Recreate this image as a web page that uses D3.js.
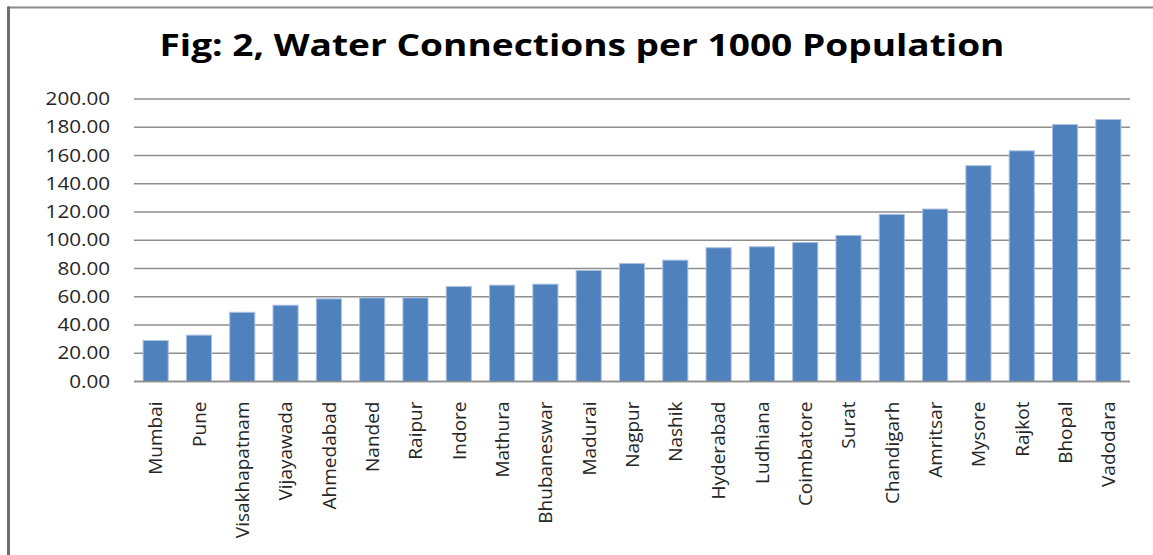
<!DOCTYPE html>
<html>
<head>
<meta charset="utf-8">
<script src="https://cdn.jsdelivr.net/npm/d3@7"></script>
<style>
  html, body { margin: 0; padding: 0; background: #fff; }
  svg { display: block; }
</style>
</head>
<body>
<svg id="chart" width="1153" height="555"></svg>
<script>
// Cities, ordered by connections per 1000 population
const cities = ["Mumbai", "Pune", "Visakhapatnam", "Vijayawada", "Ahmedabad", "Nanded",
  "Raipur", "Indore", "Mathura", "Bhubaneswar", "Madurai", "Nagpur", "Nashik",
  "Hyderabad", "Ludhiana", "Coimbatore", "Surat", "Chandigarh", "Amritsar",
  "Mysore", "Rajkot", "Bhopal", "Vadodara"];
const connections = [29.0, 32.8, 49.0, 54.0, 58.5, 59.2, 59.2, 67.2, 68.2, 68.9,
  78.6, 83.5, 85.9, 94.7, 95.4, 98.4, 103.4, 118.3, 122.1, 152.8, 163.3, 181.9, 185.5];
const yTicks = [0, 20, 40, 60, 80, 100, 120, 140, 160, 180, 200];
const title = "Fig: 2, Water Connections per 1000 Population";

const svg = d3.select("#chart");
const W = 1153, H = 555;
const plot = { left: 134, right: 1130, top: 99, bottom: 381.5 };
const labelFont = "'Open Sans', sans-serif";

// Outer chart frame (top and left edges)
svg.append("line").attr("x1", 8).attr("x2", W).attr("y1", 7.5).attr("y2", 7.5)
  .attr("stroke", "#8a8a8a").attr("stroke-width", 2);
svg.append("line").attr("x1", 8.5).attr("x2", 8.5).attr("y1", 6.5).attr("y2", H)
  .attr("stroke", "#6e6e6e").attr("stroke-width", 3);

// Title
svg.append("text")
  .attr("x", 582).attr("y", 56)
  .attr("text-anchor", "middle")
  .attr("font-family", labelFont)
  .attr("font-weight", "bold")
  .attr("font-size", 29.5)
  .attr("fill", "#000")
  .attr("textLength", 845)
  .attr("lengthAdjust", "spacingAndGlyphs")
  .text(title);

const x = d3.scaleBand().domain(cities).range([plot.left, plot.right])
  .paddingInner(0.42).paddingOuter(0.21);
const y = d3.scaleLinear().domain([0, 200]).range([plot.bottom, plot.top]);

// Horizontal gridlines
svg.append("g")
  .selectAll("line")
  .data(yTicks)
  .join("line")
  .attr("x1", plot.left).attr("x2", plot.right)
  .attr("y1", d => y(d)).attr("y2", d => y(d))
  .attr("stroke", "#8e8e8e").attr("stroke-width", 1.4);

// Y axis labels
const yAxis = d3.axisLeft(y).tickValues(yTicks).tickFormat(d3.format(".2f")).tickSize(0).tickPadding(0);
const gy = svg.append("g").attr("transform", `translate(110,0)`).call(yAxis);
gy.select(".domain").remove();
gy.selectAll("text")
  .attr("font-family", labelFont)
  .attr("font-size", 17.5)
  .attr("fill", "#262626")
  .attr("transform", "scale(1.18,1)");

// Bars
svg.append("g")
  .selectAll("rect")
  .data(connections)
  .join("rect")
  .attr("x", (d, i) => x(cities[i]))
  .attr("y", d => y(d))
  .attr("width", x.bandwidth())
  .attr("height", d => y(0) - y(d))
  .attr("fill", "#4f81bd")
  .attr("stroke", "#a9c1e0")
  .attr("stroke-width", 1);

// Baseline
svg.append("line").attr("x1", plot.left).attr("x2", plot.right)
  .attr("y1", y(0)).attr("y2", y(0))
  .attr("stroke", "#8e8e8e").attr("stroke-width", 1.4);

// Category labels, rotated
const xAxis = d3.axisBottom(x).tickSize(0).tickPadding(0);
const gx = svg.append("g").attr("transform", `translate(0,${plot.bottom})`).call(xAxis);
gx.select(".domain").remove();
gx.selectAll("text")
  .attr("font-family", labelFont)
  .attr("font-size", 19)
  .attr("fill", "#262626")
  .attr("text-anchor", "end")
  .attr("dy", "0.36em")
  .attr("transform", "translate(0,20) rotate(-90)")
  .attr("x", 0).attr("y", 0);
</script>
</body>
</html>
